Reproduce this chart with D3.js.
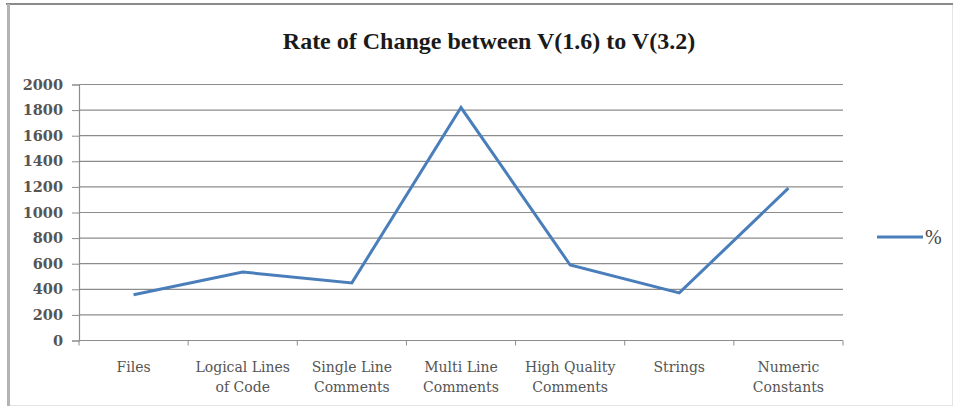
<!DOCTYPE html>
<html>
<head>
<meta charset="utf-8">
<script src="https://cdn.jsdelivr.net/npm/d3@7"></script>
<style>
  html, body { margin: 0; padding: 0; background: #fff; }
  svg { display: block; }
</style>
</head>
<body>
<svg id="chart" width="960" height="411"></svg>
<script>
// Metric categories (two-line labels split on "\n")
const categories = [
  "Files",
  "Logical Lines\nof Code",
  "Single Line\nComments",
  "Multi Line\nComments",
  "High Quality\nComments",
  "Strings",
  "Numeric\nConstants"
];
// Percentage change per metric
const percentValues = [358, 535, 450, 1820, 590, 372, 1190];
const yTicks = [0, 200, 400, 600, 800, 1000, 1200, 1400, 1600, 1800, 2000];
const seriesName = "%";
const chartTitle = "Rate of Change between V(1.6) to V(3.2)";

const svg = d3.select("#chart");
const W = 960, H = 411;
const margin = { left: 79, right: 117, top: 84.5, bottom: 70.5 };
const innerW = W - margin.left - margin.right;
const innerH = H - margin.top - margin.bottom;
const serif = "'Liberation Serif', 'DejaVu Serif', serif";
const wideSerif = "'DejaVu Serif', serif";
const lineColor = "#4a7ebb";

// Outer frame
svg.append("rect")
  .attr("x", 8.5).attr("y", 4.5).attr("width", 944).attr("height", 401)
  .attr("fill", "#fff").attr("stroke", "#e4e4e4").attr("stroke-width", 1);
svg.append("line").attr("x1", 6).attr("x2", 953).attr("y1", 4).attr("y2", 4)
  .attr("stroke", "#8a8a8a").attr("stroke-width", 2);
svg.append("line").attr("x1", 8.5).attr("x2", 8.5).attr("y1", 4).attr("y2", 406)
  .attr("stroke", "#b4b4b4").attr("stroke-width", 3);

// Title
svg.append("text")
  .attr("x", 489).attr("y", 49)
  .attr("text-anchor", "middle")
  .attr("font-family", serif)
  .attr("font-weight", "bold")
  .attr("font-size", 24)
  .attr("fill", "#1a1a1a")
  .text(chartTitle);

const g = svg.append("g").attr("transform", `translate(${margin.left},${margin.top})`);

const x = d3.scaleBand().domain(categories).range([0, innerW]);
const y = d3.scaleLinear().domain([0, 2000]).range([innerH, 0]);

// Horizontal gridlines
g.append("g")
  .selectAll("line")
  .data(yTicks)
  .join("line")
  .attr("x1", 0).attr("x2", innerW)
  .attr("y1", d => y(d)).attr("y2", d => y(d))
  .attr("stroke", "#8c8c8c").attr("stroke-width", 1.2);

// Y axis
const yAxis = g.append("g")
  .call(d3.axisLeft(y).tickValues(yTicks).tickSize(7).tickPadding(9).tickFormat(d3.format("d")));
yAxis.select(".domain").attr("stroke", "#8c8c8c").attr("stroke-width", 1.2);
yAxis.selectAll(".tick line").attr("stroke", "#8c8c8c");
yAxis.selectAll(".tick text")
  .attr("font-family", wideSerif).attr("font-size", 14.5).attr("font-weight", "bold")
  .attr("fill", "#555");

// X axis: ticks at band boundaries
const xAxisG = g.append("g").attr("transform", `translate(0,${innerH})`);
xAxisG.append("line").attr("x1", 0).attr("x2", innerW).attr("y1", 0).attr("y2", 0)
  .attr("stroke", "#8c8c8c").attr("stroke-width", 1.2);
const boundaries = categories.map(c => x(c)).concat([innerW]);
xAxisG.selectAll("line.tk")
  .data(boundaries)
  .join("line")
  .attr("class", "tk")
  .attr("x1", d => d).attr("x2", d => d)
  .attr("y1", 0).attr("y2", 5)
  .attr("stroke", "#8c8c8c");

const labels = xAxisG.selectAll("text.cat")
  .data(categories)
  .join("text")
  .attr("class", "cat")
  .attr("text-anchor", "middle")
  .attr("font-family", wideSerif)
  .attr("font-size", 14)
  .attr("fill", "#555")
  .attr("transform", d => `translate(${x(d) + x.bandwidth() / 2},0)`);
labels.each(function(d) {
  const lines = d.split("\n");
  d3.select(this).selectAll("tspan")
    .data(lines)
    .join("tspan")
    .attr("x", 0)
    .attr("y", (l, i) => 31 + i * 20)
    .text(l => l);
});

// Data line
const line = d3.line()
  .x((d, i) => x(categories[i]) + x.bandwidth() / 2)
  .y(d => y(d));
g.append("path")
  .datum(percentValues)
  .attr("d", line)
  .attr("fill", "none")
  .attr("stroke", lineColor)
  .attr("stroke-width", 3)
  .attr("stroke-linejoin", "miter");

// Legend
const legend = svg.append("g").attr("transform", "translate(877,237)");
legend.append("line").attr("x1", 0).attr("x2", 46).attr("y1", 0).attr("y2", 0)
  .attr("stroke", lineColor).attr("stroke-width", 3);
legend.append("text")
  .attr("x", 48).attr("y", 7)
  .attr("font-family", serif).attr("font-size", 20)
  .attr("fill", "#444")
  .text(seriesName);
</script>
</body>
</html>
